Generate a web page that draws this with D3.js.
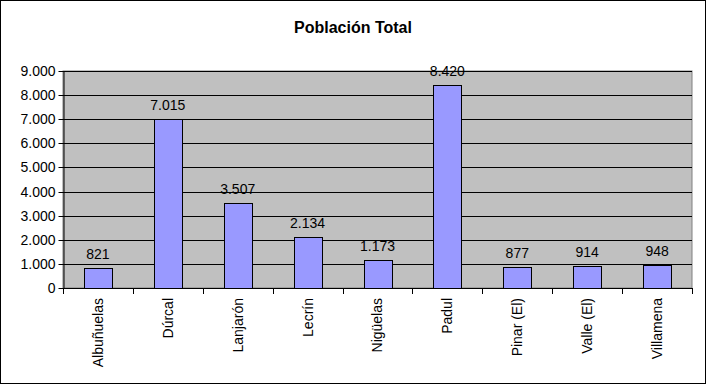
<!DOCTYPE html>
<html>
<head>
<meta charset="utf-8">
<script src="https://cdn.jsdelivr.net/npm/d3@7"></script>
<style>
  body { margin: 0; background: #fff; }
  svg { display: block; }
</style>
</head>
<body>
<div id="chart"></div>
<script>
"use strict";

const categories = ["Albuñuelas", "Dúrcal", "Lanjarón", "Lecrín", "Nigüelas", "Padul", "Pinar (El)", "Valle (El)", "Villamena"];
const poblacion = [821, 7015, 3507, 2134, 1173, 8420, 877, 914, 948];
const yTicks = [0, 1000, 2000, 3000, 4000, 5000, 6000, 7000, 8000, 9000];

let font_sans = "Arial, 'Liberation Sans', sans-serif";
let width = 707, height = 385;
let margin = {top: 71, right: 15, bottom: 97, left: 63};

const data = categories.map((c, i) => ({name: c, value: poblacion[i]}));

const svg = d3.select("#chart")
    .append("svg")
    .attr("width", width)
    .attr("height", height);

svg.append("rect")
    .attr("x", 0.5).attr("y", 0.5)
    .attr("width", width - 2).attr("height", height - 2)
    .attr("fill", "#fff")
    .attr("stroke", "#000");

let x = d3.scaleBand()
    .domain(categories)
    .range([margin.left, width - margin.right])
    .paddingInner(0.6)
    .paddingOuter(0.3);

let y = d3.scaleLinear()
    .domain([0, 9000])
    .range([height - margin.bottom, margin.top]);

// plot area
svg.append("rect")
    .attr("x", margin.left)
    .attr("y", margin.top)
    .attr("width", width - margin.right - margin.left)
    .attr("height", y(0) - margin.top)
    .attr("fill", "#c0c0c0")
    .attr("stroke", "#808080");

// gridlines
svg.append("g")
    .selectAll("line")
    .data(yTicks.slice(1))
    .join("line")
    .attr("x1", margin.left)
    .attr("x2", width - margin.right)
    .attr("y1", d => Math.round(y(d)) + 0.5)
    .attr("y2", d => Math.round(y(d)) + 0.5)
    .attr("stroke", "#000");

// bars
svg.append("g")
    .selectAll("rect")
    .data(data)
    .join("rect")
    .attr("x", d => Math.round(x(d.name)) + 0.5)
    .attr("y", d => Math.round(y(d.value)) + 0.5)
    .attr("width", Math.round(x.bandwidth()))
    .attr("height", d => Math.round(y(0)) - Math.round(y(d.value)))
    .attr("fill", "#9999ff")
    .attr("stroke", "#000");

// value labels
const fmt = d3.formatLocale({thousands: ".", decimal: ",", grouping: [3]}).format(",d");
svg.append("g")
    .style("font-family", font_sans)
    .style("font-size", "14px")
    .attr("text-anchor", "middle")
    .selectAll("text")
    .data(data)
    .join("text")
    .attr("x", d => x(d.name) + x.bandwidth() / 2)
    .attr("y", d => y(d.value) - 9)
    .text(d => fmt(d.value));

// y axis
const yAxis = svg.append("g")
    .attr("transform", `translate(${margin.left + 0.5},0)`)
    .call(d3.axisLeft(y).tickValues(yTicks).tickFormat(fmt).tickSize(5).tickPadding(3).tickSizeOuter(0));
yAxis.selectAll("text")
    .style("font-family", font_sans)
    .style("font-size", "14px")
    .attr("fill", "#000");
yAxis.selectAll(".tick").attr("transform", d => `translate(0,${Math.round(y(d)) + 0.5})`);

// x axis with ticks at category boundaries
let step = x.step();
let bounds = d3.range(categories.length + 1).map(i => margin.left + i * step);
const xg = svg.append("g");
xg.append("line")
    .attr("x1", margin.left).attr("x2", width - margin.right)
    .attr("y1", Math.round(y(0)) + 0.5).attr("y2", Math.round(y(0)) + 0.5)
    .attr("stroke", "#000");
xg.selectAll("line.tk")
    .data(bounds)
    .join("line")
    .attr("class", "tk")
    .attr("x1", d => Math.round(d) + 0.5).attr("x2", d => Math.round(d) + 0.5)
    .attr("y1", Math.round(y(0))).attr("y2", Math.round(y(0)) + 6)
    .attr("stroke", "#000");

xg.selectAll("text")
    .data(categories)
    .join("text")
    .style("font-family", font_sans)
    .style("font-size", "14px")
    .attr("text-anchor", "end")
    .attr("dy", "0.35em")
    .attr("transform", d => `translate(${x(d) + x.bandwidth() / 2},${y(0) + 10}) rotate(-90)`)
    .text(d => d);

// title
svg.append("text")
    .attr("x", 353)
    .attr("y", 33)
    .attr("text-anchor", "middle")
    .style("font-family", font_sans)
    .style("font-size", "16px")
    .style("font-weight", "bold")
    .text("Población Total");
</script>
</body>
</html>
